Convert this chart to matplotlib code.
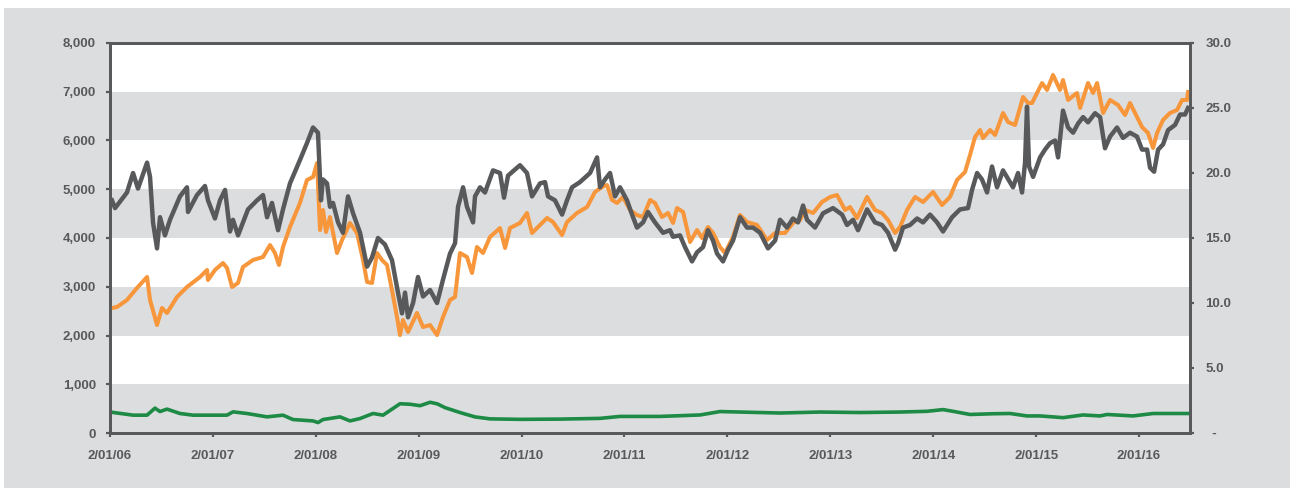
import matplotlib
matplotlib.use("Agg")
import matplotlib.pyplot as plt
from matplotlib.patches import Rectangle
from datetime import datetime, timedelta

# ---------------- data ----------------
orange_years = [2006.019, 2006.068, 2006.165, 2006.262, 2006.360, 2006.389, 2006.457, 2006.505, 2006.554, 2006.651,
                2006.748, 2006.875, 2006.943, 2006.952, 2007.020, 2007.098, 2007.137, 2007.186, 2007.244, 2007.292,
                2007.390, 2007.487, 2007.555, 2007.603, 2007.642, 2007.681, 2007.749, 2007.846, 2007.914, 2007.973,
                2008.012, 2008.041, 2008.070, 2008.099, 2008.138, 2008.206, 2008.255, 2008.332, 2008.400, 2008.459,
                2008.498, 2008.546, 2008.595, 2008.643, 2008.692, 2008.740, 2008.789, 2008.818, 2008.847, 2008.896,
                2008.983, 2009.042, 2009.110, 2009.178, 2009.236, 2009.304, 2009.353, 2009.401, 2009.469, 2009.518,
                2009.566, 2009.625, 2009.693, 2009.790, 2009.839, 2009.887, 2009.984, 2010.052, 2010.101, 2010.179,
                2010.247, 2010.305, 2010.393, 2010.441, 2010.538, 2010.636, 2010.713, 2010.781, 2010.830, 2010.879,
                2010.927, 2010.985, 2011.053, 2011.121, 2011.180, 2011.248, 2011.296, 2011.364, 2011.423, 2011.471,
                2011.510, 2011.569, 2011.637, 2011.705, 2011.753, 2011.811, 2011.860, 2011.928, 2011.977, 2012.054,
                2012.122, 2012.190, 2012.288, 2012.385, 2012.463, 2012.560, 2012.637, 2012.706, 2012.754, 2012.832,
                2012.919, 2012.997, 2013.065, 2013.143, 2013.191, 2013.259, 2013.357, 2013.434, 2013.502, 2013.561,
                2013.629, 2013.677, 2013.745, 2013.823, 2013.901, 2013.998, 2014.085, 2014.163, 2014.231, 2014.309,
                2014.357, 2014.406, 2014.455, 2014.484, 2014.552, 2014.601, 2014.678, 2014.727, 2014.795, 2014.873,
                2014.921, 2014.960, 2015.057, 2015.106, 2015.164, 2015.232, 2015.261, 2015.310, 2015.397, 2015.427,
                2015.504, 2015.553, 2015.592, 2015.650, 2015.718, 2015.796, 2015.864, 2015.912, 2015.980, 2016.029,
                2016.087, 2016.136, 2016.175, 2016.233, 2016.301, 2016.369, 2016.418, 2016.466, 2016.476]
orange_values = [2564, 2585, 2728, 2974, 3200, 2728, 2215, 2564, 2462, 2790,
                 2995, 3200, 3344, 3138, 3344, 3487, 3385, 2995, 3077, 3405,
                 3549, 3610, 3856, 3692, 3446, 3815, 4226, 4718, 5190, 5251,
                 5538, 4164, 4574, 4123, 4430, 3692, 3959, 4308, 4103, 3549,
                 3097, 3077, 3692, 3549, 3446, 2933, 2379, 2010, 2318, 2072,
                 2462, 2174, 2215, 2010, 2379, 2728, 2790, 3692, 3610, 3282,
                 3815, 3692, 4021, 4205, 3795, 4205, 4308, 4513, 4103, 4267,
                 4410, 4328, 4062, 4328, 4513, 4636, 4944, 5046, 5087, 4779,
                 4718, 4841, 4574, 4472, 4430, 4779, 4718, 4430, 4513, 4308,
                 4615, 4533, 3918, 4164, 4000, 4226, 4103, 3815, 3692, 4021,
                 4472, 4328, 4267, 3959, 4103, 4103, 4308, 4369, 4574, 4513,
                 4738, 4841, 4882, 4574, 4636, 4410, 4841, 4574, 4513, 4369,
                 4103, 4226, 4574, 4841, 4738, 4944, 4677, 4841, 5190, 5354,
                 5700, 6072, 6215, 6051, 6215, 6113, 6564, 6379, 6318, 6892,
                 6769, 6769, 7179, 7036, 7344, 7036, 7241, 6831, 6974, 6667,
                 7179, 6974, 7179, 6564, 6831, 6728, 6523, 6769, 6482, 6277,
                 6154, 5846, 6154, 6421, 6564, 6626, 6831, 6831, 6995]

gray_years = [2006.019, 2006.049, 2006.165, 2006.224, 2006.272, 2006.360, 2006.389, 2006.418, 2006.457, 2006.486,
              2006.534, 2006.583, 2006.680, 2006.748, 2006.758, 2006.845, 2006.923, 2006.952, 2007.020, 2007.069,
              2007.118, 2007.166, 2007.195, 2007.244, 2007.341, 2007.429, 2007.487, 2007.526, 2007.574, 2007.633,
              2007.681, 2007.749, 2007.846, 2007.914, 2007.973, 2008.021, 2008.050, 2008.070, 2008.109, 2008.138,
              2008.167, 2008.216, 2008.264, 2008.313, 2008.362, 2008.430, 2008.498, 2008.546, 2008.604, 2008.672,
              2008.740, 2008.789, 2008.838, 2008.867, 2008.896, 2008.945, 2008.993, 2009.042, 2009.110, 2009.178,
              2009.236, 2009.304, 2009.353, 2009.382, 2009.431, 2009.469, 2009.528, 2009.547, 2009.596, 2009.644,
              2009.722, 2009.790, 2009.829, 2009.868, 2009.984, 2010.052, 2010.101, 2010.179, 2010.227, 2010.257,
              2010.324, 2010.393, 2010.441, 2010.490, 2010.567, 2010.665, 2010.733, 2010.762, 2010.810, 2010.859,
              2010.908, 2010.956, 2011.024, 2011.073, 2011.121, 2011.180, 2011.228, 2011.296, 2011.374, 2011.442,
              2011.471, 2011.539, 2011.588, 2011.656, 2011.705, 2011.763, 2011.811, 2011.860, 2011.899, 2011.957,
              2012.006, 2012.054, 2012.122, 2012.190, 2012.249, 2012.317, 2012.394, 2012.463, 2012.511, 2012.579,
              2012.637, 2012.686, 2012.735, 2012.773, 2012.851, 2012.929, 2013.026, 2013.114, 2013.162, 2013.221,
              2013.269, 2013.357, 2013.434, 2013.502, 2013.561, 2013.629, 2013.658, 2013.706, 2013.774, 2013.843,
              2013.901, 2013.969, 2014.037, 2014.095, 2014.183, 2014.260, 2014.338, 2014.377, 2014.426, 2014.474,
              2014.523, 2014.571, 2014.620, 2014.678, 2014.775, 2014.824, 2014.863, 2014.892, 2014.911, 2014.931,
              2014.970, 2015.038, 2015.086, 2015.135, 2015.184, 2015.213, 2015.261, 2015.310, 2015.359, 2015.407,
              2015.456, 2015.504, 2015.572, 2015.621, 2015.669, 2015.718, 2015.786, 2015.844, 2015.912, 2015.980,
              2016.029, 2016.078, 2016.107, 2016.146, 2016.185, 2016.233, 2016.282, 2016.350, 2016.398, 2016.447,
              2016.476]
gray_values = [17.9, 17.3, 18.5, 20.0, 18.8, 20.8, 19.7, 16.2, 14.2, 16.6,
               15.2, 16.4, 18.2, 18.9, 17.0, 18.3, 19.0, 17.9, 16.5, 17.9,
               18.7, 15.5, 16.4, 15.2, 17.2, 17.9, 18.3, 16.6, 17.7, 15.6,
               17.2, 19.2, 21.0, 22.3, 23.5, 23.1, 17.9, 19.5, 19.2, 17.4,
               17.7, 16.2, 15.4, 18.2, 16.9, 15.4, 12.8, 13.5, 15.0, 14.5,
               13.3, 11.2, 9.2, 10.8, 8.9, 10.0, 12.0, 10.5, 11.0, 10.0,
               11.8, 13.8, 14.6, 17.4, 18.9, 17.4, 16.2, 18.2, 18.9, 18.5,
               20.2, 20.0, 18.1, 19.8, 20.6, 20.0, 18.2, 19.2, 19.3, 18.2,
               17.9, 16.8, 17.9, 18.9, 19.3, 20.0, 21.2, 18.9, 19.5, 20.0,
               18.2, 18.9, 17.9, 16.8, 15.8, 16.2, 17.0, 16.2, 15.4, 15.6,
               15.1, 15.2, 14.3, 13.2, 13.9, 14.3, 15.6, 14.8, 13.8, 13.2,
               14.1, 14.8, 16.6, 15.8, 15.8, 15.4, 14.2, 14.8, 16.4, 15.8,
               16.5, 16.2, 17.5, 16.4, 15.8, 16.9, 17.3, 16.8, 16.0, 16.4,
               15.6, 17.2, 16.2, 16.0, 15.4, 14.1, 14.6, 15.8, 16.0, 16.5,
               16.2, 16.8, 16.2, 15.5, 16.6, 17.2, 17.3, 18.7, 20.0, 19.5,
               18.5, 20.5, 18.9, 20.2, 18.9, 20.0, 18.5, 20.8, 25.1, 20.5,
               19.7, 21.2, 21.8, 22.3, 22.5, 21.2, 24.8, 23.5, 23.1, 23.8,
               24.3, 23.9, 24.6, 24.3, 21.9, 22.8, 23.5, 22.7, 23.1, 22.8,
               21.8, 21.8, 20.4, 20.1, 21.8, 22.2, 23.3, 23.7, 24.5, 24.5,
               25.0]

green_years = [2006.000, 2006.224, 2006.360, 2006.437, 2006.486, 2006.554, 2006.680, 2006.807, 2007.137, 2007.195,
               2007.331, 2007.526, 2007.681, 2007.778, 2007.973, 2008.021, 2008.070, 2008.235, 2008.332, 2008.430,
               2008.556, 2008.653, 2008.750, 2008.818, 2008.915, 2009.013, 2009.110, 2009.178, 2009.256, 2009.401,
               2009.547, 2009.693, 2009.984, 2010.373, 2010.762, 2010.956, 2011.345, 2011.734, 2011.928, 2012.122,
               2012.511, 2012.900, 2013.289, 2013.677, 2013.940, 2014.095, 2014.192, 2014.357, 2014.581, 2014.746,
               2014.911, 2015.038, 2015.261, 2015.456, 2015.621, 2015.689, 2015.942, 2016.136, 2016.476]
green_values = [430, 366, 366, 510, 440, 490, 400, 366, 366, 434,
                400, 331, 366, 276, 248, 214, 276, 331, 248, 297,
                400, 366, 503, 600, 590, 560, 630, 600, 520, 420,
                330, 290, 280, 285, 300, 340, 340, 370, 440, 430,
                410, 430, 420, 430, 445, 480, 445, 380, 395, 400,
                350, 350, 315, 370, 350, 380, 350, 400, 400]

tick_years = list(range(2006, 2017))
tick_labels = ["2/01/06", "2/01/07", "2/01/08", "2/01/09", "2/01/10", "2/01/11",
               "2/01/12", "2/01/13", "2/01/14", "2/01/15", "2/01/16"]
left_ticks = [0, 1000, 2000, 3000, 4000, 5000, 6000, 7000, 8000]
right_ticks = [0, 5, 10, 15, 20, 25, 30]
right_labels = ["  -", "5.0", "10.0", "15.0", "20.0", "25.0", "30.0"]

# ---------------- styling ----------------
BG = "#dcdddf"
DARK = "#58595b"
ORANGE = "#f7963a"
GREEN = "#1d8a45"
BASE = datetime(2006, 1, 2)


def to_date(y):
    return BASE + timedelta(days=(y - 2006) * 365.25)


plt.rcParams['font.family'] = ['Liberation Sans', 'DejaVu Sans']
plt.rcParams['font.weight'] = 'bold'

fig = plt.figure(figsize=(12.9, 4.88), dpi=100, facecolor=BG)
# thin white border at top and left as in the reference
fig.patches.append(Rectangle((0, 1 - 8 / 488), 1, 8 / 488, transform=fig.transFigure,
                             facecolor="white", edgecolor="none", zorder=-10))
fig.patches.append(Rectangle((0, 0), 4 / 1290, 1, transform=fig.transFigure,
                             facecolor="white", edgecolor="none", zorder=-10))

ax = fig.add_axes([110 / 1290, 1 - 433 / 488, 1080 / 1290, 390 / 488])
ax.set_facecolor("white")
for lo in (0, 2000, 4000, 6000):
    ax.axhspan(lo, lo + 1000, color=BG, lw=0, zorder=0)

ax.plot([to_date(y) for y in orange_years], orange_values, color=ORANGE, lw=2.9,
        solid_joinstyle='round', zorder=3)
ax.plot([to_date(y) for y in green_years], green_values, color=GREEN, lw=2.6,
        solid_joinstyle='round', zorder=3)

ax2 = ax.twinx()
ax2.plot([to_date(y) for y in gray_years], gray_values, color=DARK, lw=3.2,
         solid_joinstyle='round', zorder=3)

ax.set_xlim(to_date(2006.0), to_date(2016.495))
ax.set_ylim(0, 8000)
ax2.set_ylim(0, 30)

ax.set_xticks([datetime(y, 1, 2) for y in tick_years])
ax.set_xticklabels(tick_labels)
ax.set_yticks(left_ticks)
ax.set_yticklabels([f"{v:,}" for v in left_ticks])
ax2.set_yticks(right_ticks)
ax2.set_yticklabels(right_labels)

for a in (ax, ax2):
    for s in a.spines.values():
        s.set_color(DARK)
        s.set_linewidth(2.0)
    a.tick_params(colors=DARK, labelcolor=DARK, labelsize=9.5, width=1.6, length=3)
ax.tick_params(axis='y', pad=7)
ax.tick_params(axis='x', pad=9)
ax2.tick_params(axis='y', pad=8)

fig.savefig("out.png", dpi=100, facecolor=BG)
